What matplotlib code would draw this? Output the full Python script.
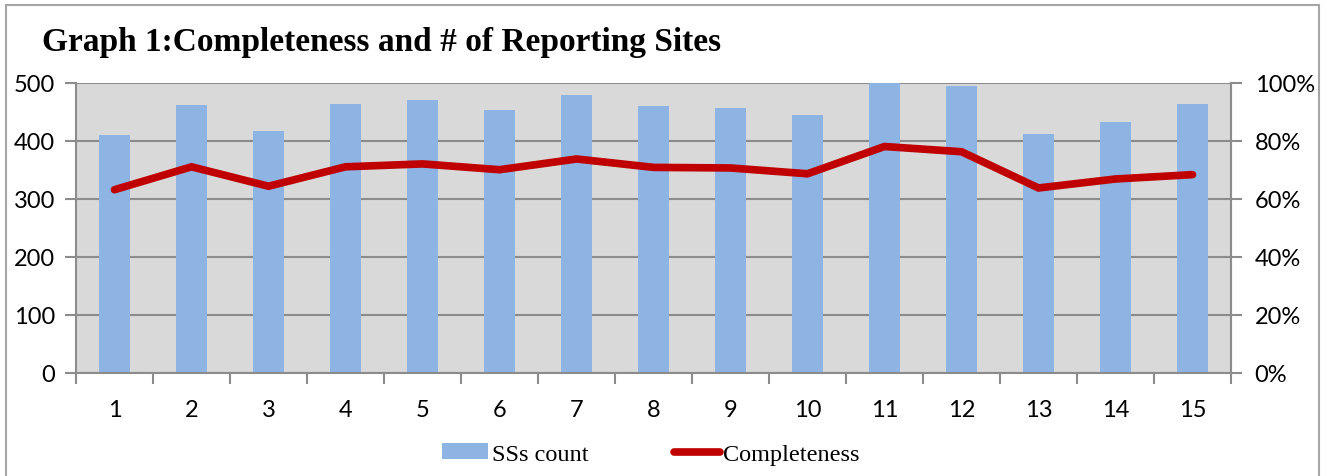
import matplotlib.pyplot as plt
from matplotlib.patches import Rectangle, Patch
from matplotlib.lines import Line2D
from matplotlib.ticker import FuncFormatter

# data
sites = list(range(1, 16))
ss_count = [410, 462, 417, 464, 471, 453, 479, 460, 457, 445, 500, 495, 412, 433, 463]
completeness = [0.632, 0.711, 0.644, 0.711, 0.721, 0.701, 0.738, 0.709, 0.707, 0.687,
                0.781, 0.763, 0.638, 0.669, 0.684]
y_ticks = [0, 100, 200, 300, 400, 500]
pct_ticks = [0, 0.2, 0.4, 0.6, 0.8, 1.0]

bar_color = '#8EB4E3'
line_color = '#C00000'
grid_color = '#8C8C8C'
tick_font = 'Lato'
serif_font = ['Liberation Serif', 'DejaVu Serif']

fig = plt.figure(figsize=(13.27, 4.77), dpi=100)
fig.patch.set_facecolor('white')

# outer chart frame
fig.patches.append(Rectangle((6 / 1327, -0.1), 1313 / 1327, 1.1 - 6 / 477,
                             transform=fig.transFigure, fill=False,
                             edgecolor='#A6A6A6', linewidth=1.5))

ax = fig.add_axes([76 / 1327, 1 - 374 / 477, 1155 / 1327, 290 / 477])
ax.set_facecolor('#D9D9D9')
ax.bar(sites, ss_count, width=0.4, color=bar_color, zorder=2)
ax.set_xlim(0.5, 15.5)
ax.set_ylim(0, 500)
ax.set_yticks(y_ticks)
ax.yaxis.grid(True, color=grid_color, linewidth=1.5, zorder=1)
ax.set_axisbelow(True)

ax.set_xticks(sites)
ax.set_xticks([s + 0.5 for s in range(0, 16)], minor=True)
ax.tick_params(axis='x', which='major', length=0, pad=19)
ax.tick_params(axis='x', which='minor', length=8, width=1.5, color=grid_color)
ax.tick_params(axis='y', length=8, width=1.5, color=grid_color, pad=7)
for lab in ax.get_xticklabels() + ax.get_yticklabels():
    lab.set_fontfamily(tick_font)
    lab.set_fontsize(17)

for side in ['left', 'bottom', 'right']:
    ax.spines[side].set_color(grid_color)
    ax.spines[side].set_linewidth(1.5)
ax.spines['top'].set_visible(False)

ax2 = ax.twinx()
ax2.plot(sites, completeness, color=line_color, linewidth=5.5,
         solid_capstyle='round', solid_joinstyle='miter', zorder=3)
ax2.set_ylim(0, 1)
ax2.set_yticks(pct_ticks)
ax2.yaxis.set_major_formatter(FuncFormatter(lambda v, p: f'{v:.0%}'))
ax2.tick_params(axis='y', length=8, width=1.5, color=grid_color, pad=9)
for lab in ax2.get_yticklabels():
    lab.set_fontfamily(tick_font)
    lab.set_fontsize(17)
for side in ['left', 'bottom', 'top']:
    ax2.spines[side].set_visible(False)
ax2.spines['right'].set_color(grid_color)
ax2.spines['right'].set_linewidth(1.5)

fig.text(42 / 1327, 1 - 42 / 477, 'Graph 1:Completeness and # of Reporting Sites',
         fontsize=24, fontweight='bold', family=serif_font, va='center', ha='left')

handles = [Patch(facecolor=bar_color, edgecolor='none'),
           Line2D([0], [0], color=line_color, linewidth=5.5, solid_capstyle='round')]
fig.legend(handles, ['SSs count', 'Completeness'], loc='center',
           bbox_to_anchor=(651 / 1327, 1 - 455 / 477), ncol=2, frameon=False,
           prop={'family': serif_font, 'size': 17.5}, handlelength=1.9,
           handleheight=0.6, handletextpad=0.15, columnspacing=3.5)

plt.savefig('out.png', dpi=100)
